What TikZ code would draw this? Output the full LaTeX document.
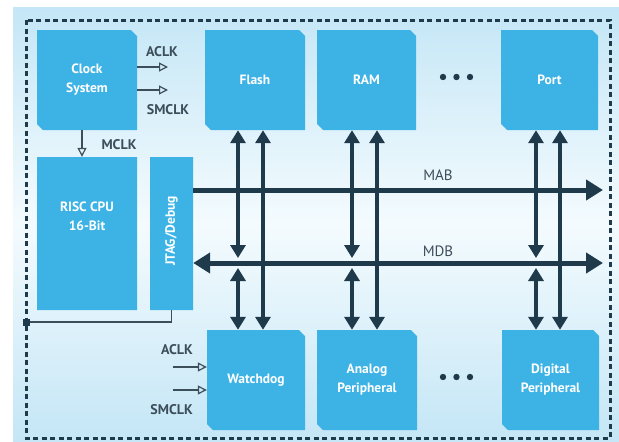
\documentclass[tikz,border=0pt]{standalone}
\usepackage{fontspec}
\setmainfont{PT Sans}
\usetikzlibrary{arrows.meta,shapes.misc,calc}
\definecolor{boxc}{HTML}{3DB3E5}
\definecolor{dk}{HTML}{1F3A4B}
\definecolor{lbl}{HTML}{3C4E5A}
\definecolor{bgA}{HTML}{C4E6F6}
\definecolor{bgB}{HTML}{F4FBFE}
\begin{document}
\begin{tikzpicture}[x=1pt,y=-1pt,
  blk/.style={fill=boxc, chamfered rectangle, chamfered rectangle corners={north east,south west},
    chamfered rectangle xsep=3pt, chamfered rectangle ysep=3pt, inner sep=0pt, text=white,
    font=\bfseries\fontsize{13.5}{19}\selectfont, align=center},
  btxt/.style={text=white, font=\bfseries\fontsize{13.5}{19}\selectfont, align=center, inner sep=0pt},
  bus/.style={dk, line width=5pt},
  vbus/.style={dk, line width=3.5pt, {Triangle[width=15pt,length=13pt]}-{Triangle[width=15pt,length=13pt]}},
  clk/.style={lbl, line width=1.2pt, -{Triangle[open,width=9pt,length=9pt]}},
  lab/.style={lbl, font=\bfseries\fontsize{14}{16}\selectfont, inner sep=0pt},
  buslab/.style={lbl, font=\fontsize{15}{17}\selectfont, inner sep=0pt}]
\useasboundingbox (0,0) rectangle (619,442);
\fill[white] (0,0) rectangle (619,442);
\shade[top color=bgA, bottom color=bgA, middle color=bgB] (13,7) rectangle (619,442);
\draw[dk, line width=3pt, dash pattern=on 5pt off 3.5pt] (26,20) rectangle (610,438);

% blocks
\node[blk, minimum width=100pt, minimum height=100pt] (clock) at (87,80) {Clock\\System};
\node[blk, minimum width=100pt, minimum height=100pt] (flash) at (255,80) {Flash};
\node[blk, minimum width=99pt, minimum height=100pt] (ram) at (366.5,80) {RAM};
\node[blk, minimum width=97pt, minimum height=100pt] (port) at (549.5,80) {Port};
\node[blk, minimum width=100pt, minimum height=153pt] (cpu) at (87,233.5) {};
\node[btxt] (cputxt) at (87,216) {RISC CPU\\16-Bit};
\node[blk, minimum width=43pt, minimum height=153pt] (jtag) at (171.5,233.5) {};
\node[btxt, rotate=90] (jtagtxt) at (171.5,231) {JTAG/Debug};
\node[blk, minimum width=98pt, minimum height=100pt] (wdog) at (256,380) {Watchdog};
\node[blk, minimum width=100pt, minimum height=100pt] (analog) at (367,380) {Analog\\Peripheral};
\node[blk, minimum width=97pt, minimum height=100pt] (digital) at (550.5,380) {Digital\\Peripheral};

% dots
\foreach \y in {77,377} \foreach \x in {443,456.5,470} \fill[dk] (\x,\y) circle (3.2pt);

% buses
\coordinate (mabend) at (603,190);
\coordinate (mdbend) at (603,263);
\draw[bus, -{Triangle[width=20pt,length=17pt]}] (jtag.east |- mabend) -- (mabend);
\draw[bus, {Triangle[width=20pt,length=17pt]}-{Triangle[width=20pt,length=17pt]}] (jtag.east |- mdbend) -- (mdbend);
\node[buslab] (mab) at (438,175) {MAB};
\node[buslab] (mdb) at (438,251) {MDB};

% vertical connections
\foreach \t/\b/\x in {flash/wdog/238, ram/analog/352, port/digital/536} {
  \draw[vbus] (\t.south -| \x,0) -- (\x,258);
  \draw[vbus] (\x,268) -- (\b.north -| \x,0);
}
\foreach \t/\b/\x in {flash/wdog/263, ram/analog/377, port/digital/560}
  \draw[vbus] (\t.south -| \x,0) -- (\b.north -| \x,0);

% clocks
\coordinate (aclkend) at (168,67);
\coordinate (smclkend) at (168,90);
\draw[clk] (clock.east |- aclkend) -- (aclkend);
\draw[clk] (clock.east |- smclkend) -- (smclkend);
\node[lab] (aclk1) at (162,52) {ACLK};
\node[lab] (smclk1) at (168,110) {SMCLK};
\draw[clk] (clock.south -| 82,0) -- (cpu.north -| 82,0);
\node[lab] (mclk) at (119,145) {MCLK};

\coordinate (aclkin) at (173,367);
\coordinate (smclkin) at (173,390);
\draw[clk] (aclkin) -- (wdog.west |- aclkin);
\draw[clk] (smclkin) -- (wdog.west |- smclkin);
\node[lab, anchor=east] (aclk2) at (193,350) {ACLK};
\node[lab, anchor=east] (smclk2) at (193,410) {SMCLK};

% JTAG link
\node[fill=dk, minimum size=7pt, inner sep=0pt] (sq) at (26,322) {};
\draw[lbl, line width=1.5pt] (jtag.south) -- (jtag.south |- sq) -- (sq);
\end{tikzpicture}
\end{document}
